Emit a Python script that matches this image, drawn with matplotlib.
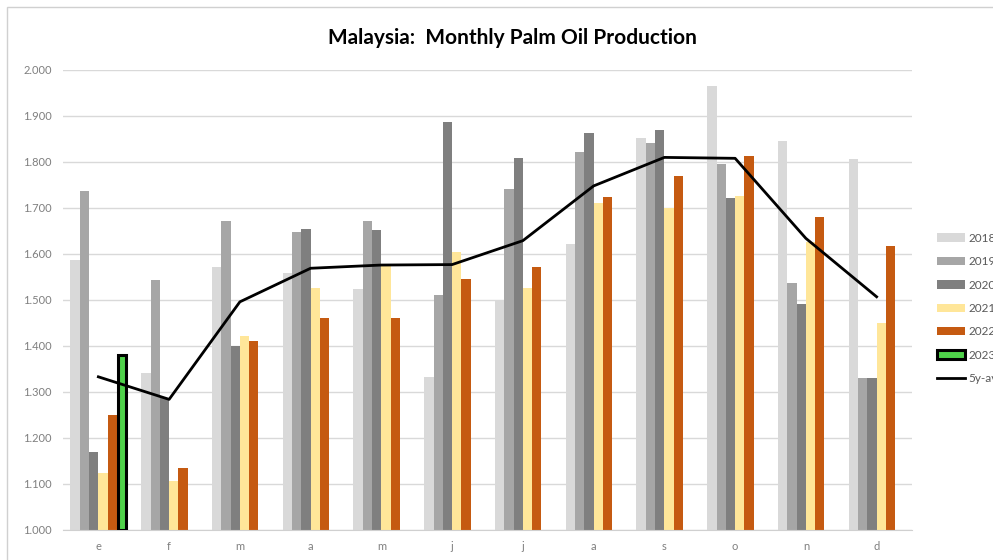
import numpy as np
import matplotlib.pyplot as plt
from matplotlib.patches import Rectangle

plt.rcParams['font.family'] = ['Lato', 'DejaVu Sans']

months = ['e', 'f', 'm', 'a', 'm', 'j', 'j', 'a', 's', 'o', 'n', 'd']

# monthly production, million tonnes
p2018 = [1.587, 1.342, 1.572, 1.558, 1.525, 1.333, 1.501, 1.621, 1.853, 1.965, 1.846, 1.807]
p2019 = [1.736, 1.543, 1.672, 1.648, 1.672, 1.511, 1.741, 1.822, 1.842, 1.795, 1.536, 1.331]
p2020 = [1.170, 1.286, 1.400, 1.654, 1.652, 1.886, 1.808, 1.864, 1.870, 1.722, 1.491, 1.331]
p2021 = [1.125, 1.107, 1.422, 1.527, 1.573, 1.605, 1.527, 1.710, 1.701, 1.726, 1.627, 1.449]
p2022 = [1.251, 1.135, 1.411, 1.460, 1.460, 1.545, 1.572, 1.725, 1.770, 1.814, 1.681, 1.618]
p2023 = [1.380]
avg5y = [1.333, 1.284, 1.496, 1.569, 1.576, 1.577, 1.629, 1.748, 1.810, 1.808, 1.634, 1.507]

years = ['2018', '2019', '2020', '2021', '2022', '2023']
series = [p2018, p2019, p2020, p2021, p2022, p2023]
colors = ['#d9d9d9', '#a6a6a6', '#7f7f7f', '#ffe699', '#c55a11', '#4fd14a']

fig = plt.figure(figsize=(9.93, 5.6), dpi=100)
# chart frame
fig.patches.append(Rectangle((7/993, -0.1), 1.2, 1 - 7/560 + 0.1, transform=fig.transFigure,
                             fill=False, edgecolor='#d0d0d0', lw=1))
ax = fig.add_axes([63/993, 1 - 530/560, 849/993, 460/560])

x = np.arange(len(months))
w = 0.1316
handles = []
for i, (yr, vals, c) in enumerate(zip(years, series, colors)):
    xs = x[:len(vals)] + (i - 2.5) * w
    h = [v - 1.0 for v in vals]
    if yr == '2023':
        b = ax.bar(xs, h, w * 0.85, bottom=1.0, color=c, edgecolor='black', linewidth=2.2,
                   label=yr, zorder=3)
    else:
        b = ax.bar(xs, h, w, bottom=1.0, color=c, label=yr, zorder=2)
    handles.append(b)

ln, = ax.plot(x, avg5y, color='black', lw=2.0, label='5y-avg', zorder=4)
handles.append(ln)

ax.set_ylim(1.0, 2.0)
ax.set_xlim(-0.5, 11.5)
ax.set_yticks(np.arange(1.0, 2.01, 0.1))
ax.set_yticklabels(['%.3f' % v for v in np.arange(1.0, 2.01, 0.1)])
ax.set_xticks(x)
ax.set_xticklabels(months)
ax.tick_params(length=0, labelsize=8, colors='#7f7f7f', pad=8)
ax.grid(axis='y', color='#d9d9d9', lw=1, zorder=0)
ax.set_axisbelow(True)
for s in ['top', 'right', 'left']:
    ax.spines[s].set_visible(False)
ax.spines['bottom'].set_color('#d0d0d0')

fig.text(0.516, 1 - 38/560, 'Malaysia:  Monthly Palm Oil Production', ha='center', va='center',
         fontsize=15, fontweight='bold', color='black')

fig.legend(handles=handles, labels=years + ['5y-avg'], loc='upper left',
           bbox_to_anchor=(932/993, 1 - 228/560), frameon=False,
           fontsize=8.5, labelcolor='#595959', handlelength=2.4, handletextpad=0.3,
           labelspacing=1.05, borderaxespad=0)

fig.savefig('out.png', dpi=100)
